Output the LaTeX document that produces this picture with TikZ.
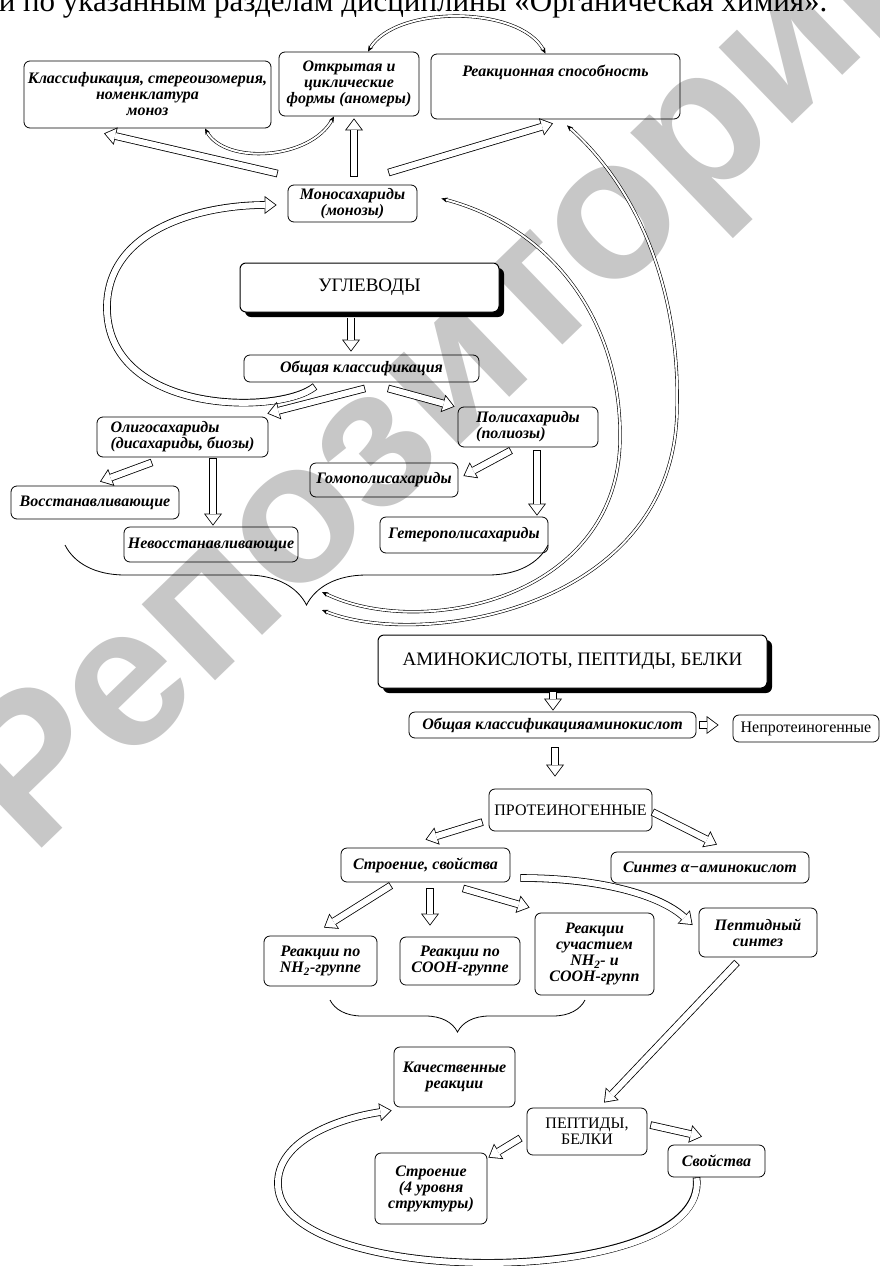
\documentclass[tikz,border=0pt]{standalone}
\usepackage{fontspec}
\setmainfont{Liberation Serif}
\newfontfamily\wmfont{Liberation Sans}
\usetikzlibrary{arrows.meta, calc, shadows, decorations.pathreplacing}

\begin{document}
\begin{tikzpicture}[
    x=1pt, y=-1pt,
    box/.style={draw, rounded corners=6pt, line width=0.8pt, align=center, inner sep=2pt,
        font=\fontsize{16}{16}\selectfont\bfseries\itshape},
    capbox/.style={box, font=\fontsize{19}{19}\selectfont},
    shbox/.style={capbox, fill=white, line width=1pt,
        drop shadow={shadow xshift=5pt, shadow yshift=-5pt, fill=black, opacity=1}},
    sz/.style 2 args={minimum width=#1pt, minimum height=#2pt},
    hollow/.style={line width=7.6pt, -{Triangle[length=12pt, width=18pt, line width=0pt]},
        postaction={draw=white, line width=6pt, shorten <=0.8pt, shorten >=1.33pt,
            -{Triangle[length=9.9pt, width=14.8pt, line width=0pt]}}},
    twin/.style={double, double distance=2pt, line width=0.6pt,
        {Stealth[length=6pt, width=5pt]}-{Stealth[length=6pt, width=5pt]}},
    brc/.style={decorate, decoration={brace, mirror, amplitude=#1pt}, line width=0.8pt},
    wm/.style={text=black!22, font=\wmfont\bfseries\fontsize{200}{200}\selectfont},
]
\useasboundingbox (0,0) rectangle (880,1266);

% ── Watermark ──
\node[wm, rotate=44, anchor=base west] (wmark) at (30,860) {Репозиторий БГУ};

% ── Heading line (cut by the page edge) ──
\node[font=\fontsize{31}{31}\selectfont, anchor=base east] (head) at (831,12) {и по указанным разделам дисциплины «Органическая химия».};

% ── Nodes (carbohydrates) ──
\node[box, sz={247}{67}] (Klass) at (147.5,94.5) {Классификация, стереоизомерия,\\номенклатура\\моноз};
\node[box, sz={140}{64}] (Otkr) at (349,84) {Открытая и\\циклические\\формы (аномеры)};
\node[box, sz={249}{65}, text height=20pt, text depth=40pt] (Reakc) at (555.5,86.5) {Реакционная способность};
\node[box, sz={129}{37}] (Mono) at (352.5,203.5) {Моносахариды\\(монозы)};
\node[shbox, sz={259}{49}] (Uglev) at (369.5,287.5) {УГЛЕВОДЫ};
\node[box, sz={235}{27}] (Obsh) at (361.5,368.5) {Общая классификация};
\node[box, sz={171}{40}, align=left] (Oligo) at (182.5,437) {Олигосахариды\\(дисахариды, биозы)};
\node[box, sz={140}{40}, align=left] (Poli) at (528,427) {Полисахариды\\(полиозы)};
\node[box, sz={168}{33}] (Vosst) at (95,502.5) {Восстанавливающие};
\node[box, sz={174}{35}] (Nevosst) at (211,544.5) {Невосстанавливающие};
\node[box, sz={148}{34}] (Gomo) at (384,480) {Гомополисахариды};
\node[box, sz={168}{36}] (Getero) at (464,535) {Гетерополисахариды};

% ── Nodes (amino acids) ──
\node[shbox, sz={389}{53}] (Amino) at (572.5,661.5) {АМИНОКИСЛОТЫ, ПЕПТИДЫ, БЕЛКИ};
\node[box, sz={287}{26}] (ObshAm) at (552.5,725) {Общая классификацияаминокислот};
\node[box, sz={146}{27}, font=\fontsize{16}{16}\selectfont] (Neprot) at (806,728.5) {Непротеиногенные};
\node[box, sz={163}{42}, font=\fontsize{16}{16}\selectfont] (Prot) at (570.5,810) {ПРОТЕИНОГЕННЫЕ};
\node[box, sz={169}{34}] (Stroen) at (425.5,865) {Строение, свойства};
\node[box, sz={198}{31}] (Sintez) at (710,867.5) {Синтез α−аминокислот};
\node[box, sz={113}{50}] (ReNH) at (320.5,961) {Реакции по\\NH\textsubscript{2}-группе};
\node[box, sz={120}{48}] (ReCOOH) at (460,961) {Реакции по\\COOH-группе};
\node[box, sz={119}{82}] (ReBoth) at (594.5,954) {Реакции\\сучастием\\NH\textsubscript{2}- и\\COOH-групп};
\node[box, sz={118}{49}] (PepSint) at (758,932.5) {Пептидный\\синтез};
\node[box, sz={121}{60}] (Kach) at (454.5,1077) {Качественные\\реакции};
\node[box, sz={120}{47}, font=\fontsize{16}{16}\selectfont] (Pept) at (587,1131.5) {ПЕПТИДЫ,\\БЕЛКИ};
\node[box, sz={97}{32}] (Svoi) at (716.5,1161) {Свойства};
\node[box, sz={112}{71}] (StrBelk) at (431,1188.5) {Строение\\(4 уровня\\структуры)};

% ── Arrows (upper part) ──
\draw[twin] ([xshift=19pt]Otkr.north) .. controls (395,5) and (520,5) .. ([xshift=-10pt]Reakc.north);
\draw[twin] ([xshift=57.5pt]Klass.south) .. controls (225,165) and (310,160) .. ([xshift=-15pt]Otkr.south);
\draw[hollow] ([xshift=-10pt,yshift=11pt]Mono.north west) -- ([xshift=-43.5pt,yshift=-5pt]Klass.south);
\draw[hollow] ([xshift=1.5pt,yshift=8pt]Mono.north) -- ([xshift=5pt,yshift=-2pt]Otkr.south);
\draw[hollow] ([xshift=-29pt,yshift=12pt]Mono.north east) -- ([xshift=-2.5pt,yshift=-4pt]Reakc.south);

\coordinate (tipA) at (322,592);
\coordinate (tipB) at (322,610);
\draw[twin] ([xshift=24pt,yshift=5pt]Mono.east) .. controls (560,230) and (622,330) .. (620,440)
    .. controls (618,600) and (420,640) .. (tipA);
\draw[twin] ([xshift=11.5pt,yshift=-6pt]Reakc.south) .. controls (650,200) and (680,310) .. (677,410)
    .. controls (674,610) and (420,650) .. (tipB);
\draw[hollow] ([xshift=-46.5pt,yshift=-4pt]Obsh.south) .. controls (280,415) and (110,415) .. (107,310)
    .. controls (105,230) and (200,205) .. ([xshift=-11pt,yshift=-1.5pt]Mono.west);

\draw[hollow] ([xshift=-18.5pt,yshift=-5pt]Uglev.south) -- ([xshift=-10.5pt,yshift=3pt]Obsh.north);
\draw[hollow] ([xshift=3.5pt,yshift=-6pt]Obsh.south) -- ([xshift=-1pt,yshift=3pt]Oligo.north east);
\draw[hollow] ([xshift=26.5pt,yshift=-6pt]Obsh.south) -- ([xshift=-3pt]Poli.north west);
\draw[hollow] ([xshift=-30.5pt,yshift=-5pt]Oligo.south) -- ([xshift=5pt,yshift=4pt]Vosst.north);
\draw[hollow] ([xshift=30.5pt,yshift=-1pt]Oligo.south) -- ([xshift=2pt,yshift=1pt]Nevosst.north);
\draw[hollow] ([xshift=-17pt,yshift=-3pt]Poli.south) -- ([xshift=5pt,yshift=4pt]Gomo.east);
\draw[hollow] ([xshift=9pt,yshift=-3pt]Poli.south) -- ([xshift=73pt,yshift=1pt]Getero.north);

\draw[brc=60] (65,545) -- (548,545);

% ── Arrows (lower part) ──
\draw[hollow] ([xshift=-19.5pt,yshift=-3pt]Amino.south) -- ([xshift=0.5pt,yshift=1pt]ObshAm.north);
\draw[hollow] ([xshift=3pt]ObshAm.east) -- ([xshift=-14pt]Neprot.west |- ObshAm.east);
\draw[hollow] ([xshift=2.5pt,yshift=-9pt]ObshAm.south) -- ([xshift=-15.5pt,yshift=12pt]Prot.north);
\draw[hollow] ([xshift=-6pt,yshift=-12pt]Prot.west) -- ([yshift=8pt]Stroen.north);
\draw[hollow] ([yshift=-2pt]Prot.east) -- ([xshift=7pt,yshift=7pt]Sintez.north);
\draw[hollow] ([xshift=-34.5pt,yshift=-3pt]Stroen.south) -- ([xshift=3.5pt,yshift=8pt]ReNH.north);
\draw[hollow] ([xshift=4.5pt,yshift=-6pt]Stroen.south) -- ([xshift=-30pt,yshift=11pt]ReCOOH.north);
\draw[hollow] ([xshift=37.5pt,yshift=-6pt]Stroen.south) -- ([xshift=-5pt,yshift=5pt]ReBoth.north west);
\draw[hollow] ([xshift=10pt,yshift=-13pt]Stroen.east) .. controls (600,878) and (660,895) .. ([xshift=-6pt,yshift=7.5pt]PepSint.west);

\draw[brc=32] (330,1000) -- (585,1000);

\draw[hollow] ([xshift=-21pt,yshift=-5pt]PepSint.south) -- ([xshift=17pt,yshift=5pt]Pept.north);
\draw[hollow] ([xshift=-6pt,yshift=-6.5pt]Pept.west) -- ([xshift=1pt,yshift=-5pt]StrBelk.north east);
\draw[hollow] ([xshift=3pt,yshift=6.5pt]Pept.east) -- ([xshift=-14.5pt,yshift=8pt]Svoi.north);
\draw[hollow] ([xshift=-20pt]Svoi.south) .. controls (710,1290) and (280,1290) .. (278,1185)
    .. controls (276,1140) and (340,1118) .. ([xshift=-2pt,yshift=-3pt]Kach.south west);

\end{tikzpicture}
\end{document}
